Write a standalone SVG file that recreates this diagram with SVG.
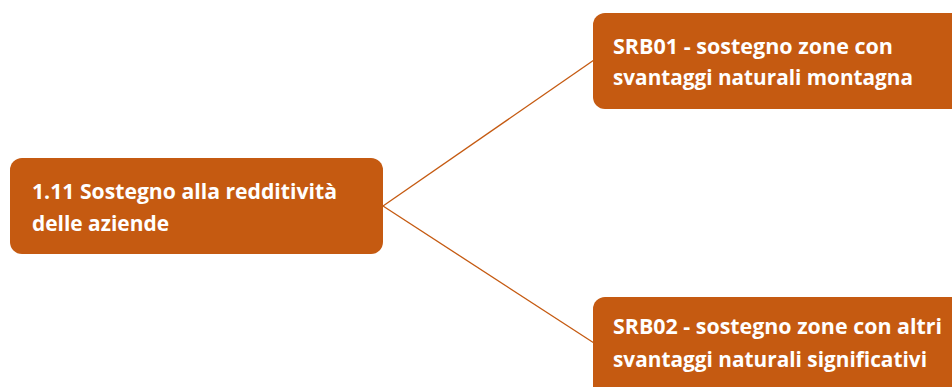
<svg xmlns="http://www.w3.org/2000/svg" width="952" height="387" viewBox="0 0 952 387">
<style>
.box{fill:#C55A11;}
.t{font-family:"Open Sans","Liberation Sans",sans-serif;font-weight:bold;font-size:20.5px;fill:#ffffff;}
.c{stroke:#C55A11;stroke-width:1.3;fill:none;}
</style>
<rect width="952" height="387" fill="#ffffff"/>
<g id="connectors">
<line class="c" x1="383" y1="206" x2="594" y2="60"/>
<line class="c" x1="383" y1="206" x2="594" y2="343"/>
</g>
<g id="root">
<rect class="box" x="10" y="158" width="373" height="96" rx="12"/>
<text class="t" x="32" y="199" textLength="305" lengthAdjust="spacingAndGlyphs">1.11 Sostegno alla redditività</text>
<text class="t" x="32" y="231" textLength="137" lengthAdjust="spacingAndGlyphs">delle aziende</text>
</g>
<g id="srb01">
<rect class="box" x="593" y="13" width="380" height="96" rx="12"/>
<text class="t" x="613" y="54" textLength="280" lengthAdjust="spacingAndGlyphs">SRB01 - sostegno zone con</text>
<text class="t" x="613" y="85" textLength="300" lengthAdjust="spacingAndGlyphs">svantaggi naturali montagna</text>
</g>
<g id="srb02">
<rect class="box" x="593" y="297" width="380" height="110" rx="12"/>
<text class="t" x="613" y="334" textLength="329" lengthAdjust="spacingAndGlyphs">SRB02 - sostegno zone con altri</text>
<text class="t" x="613" y="367" textLength="314" lengthAdjust="spacingAndGlyphs">svantaggi naturali significativi</text>
</g>
</svg>
